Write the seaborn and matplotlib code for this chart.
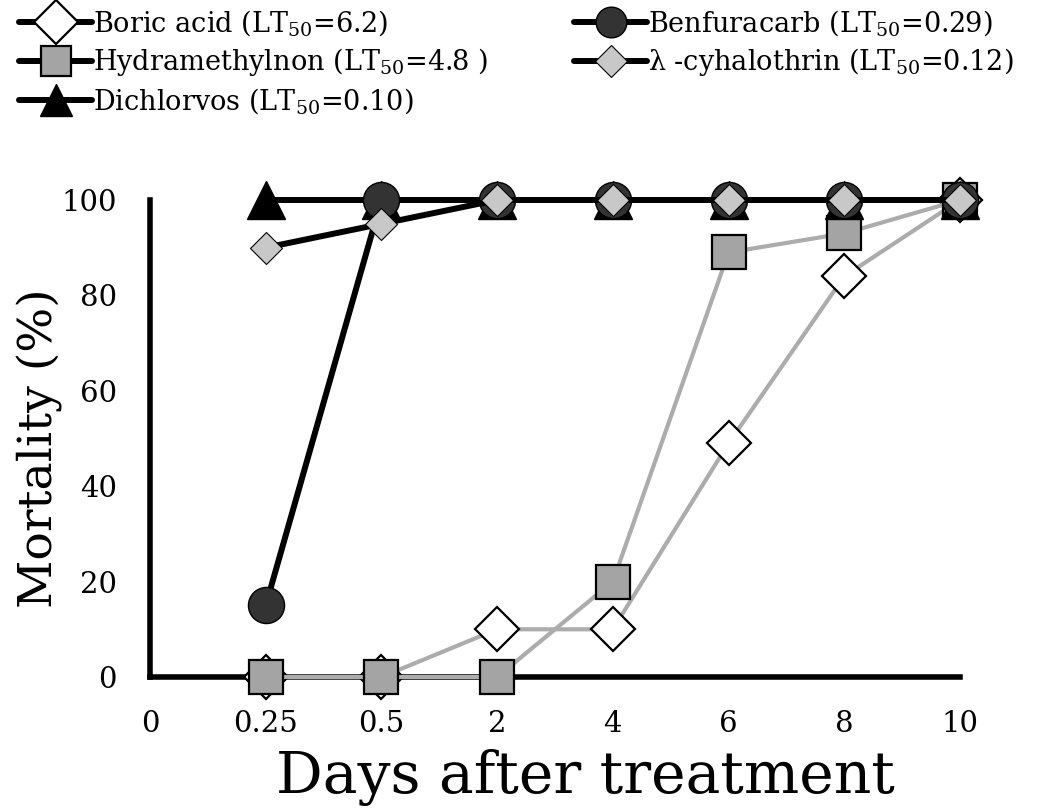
import matplotlib
matplotlib.use("Agg")
import matplotlib.pyplot as plt
from matplotlib.lines import Line2D
import seaborn as sns

# ---- data ----
tick_labels = ["0", "0.25", "0.5", "2", "4", "6", "8", "10"]
days = ["0.25", "0.5", "2", "4", "6", "8", "10"]
boric_acid = [0, 0, 10, 10, 49, 84, 100]
hydramethylnon = [0, 0, 0, 20, 89, 93, 100]
dichlorvos = [100, 100, 100, 100, 100, 100, 100]
benfuracarb = [15, 100, 100, 100, 100, 100, 100]
cyhalothrin = [90, 95, 100, 100, 100, 100, 100]
labels = [
    r"Boric acid (LT$_{50}$=6.2)",
    r"Hydramethylnon (LT$_{50}$=4.8 )",
    r"Dichlorvos (LT$_{50}$=0.10)",
    r"Benfuracarb (LT$_{50}$=0.29)",
    r"λ -cyhalothrin (LT$_{50}$=0.12)",
]

sns.set_theme(style="white")
plt.rcParams["font.family"] = ["DejaVu Serif"]
plt.rcParams["mathtext.fontset"] = "dejavuserif"
plt.rcParams["text.color"] = "black"
plt.rcParams["axes.labelcolor"] = "black"

fig = plt.figure(figsize=(10.43, 8.1), dpi=100)
ax = fig.add_axes([150 / 1043, 1 - 677 / 810, 810 / 1043, 477 / 810])

pos = [tick_labels.index(d) for d in days]

styles = [
    dict(vals=boric_acid, color="#acacac", lw=3.0, marker="D", ms=22,
         mfc="white", mew=1.6, z=3),
    dict(vals=hydramethylnon, color="#acacac", lw=3.0, marker="s", ms=25,
         mfc="#a4a4a4", mew=1.6, z=4),
    dict(vals=dichlorvos, color="black", lw=4.3, marker="^", ms=27,
         mfc="black", mew=1.0, z=5),
    dict(vals=benfuracarb, color="black", lw=4.3, marker="o", ms=26,
         mfc="#333333", mew=1.0, z=6),
    dict(vals=cyhalothrin, color="black", lw=4.3, marker="D", ms=16,
         mfc="#c8c8c8", mew=0.8, z=7),
]

for st in styles:
    sns.lineplot(x=pos, y=st["vals"], ax=ax, color=st["color"],
                 linewidth=st["lw"], marker=st["marker"],
                 markersize=st["ms"], markerfacecolor=st["mfc"],
                 markeredgecolor="black", markeredgewidth=st["mew"],
                 clip_on=False, zorder=st["z"], legend=False)

ax.set_xlim(0, 7)
ax.set_ylim(0, 100)
ax.set_xticks(range(len(tick_labels)))
ax.set_xticklabels(tick_labels)
ax.set_yticks([0, 20, 40, 60, 80, 100])
for s in ["top", "right"]:
    ax.spines[s].set_visible(False)
for s in ["left", "bottom"]:
    ax.spines[s].set_linewidth(4)
    ax.spines[s].set_color("black")
    ax.spines[s].set_zorder(2.5)
ax.tick_params(axis="both", direction="in", length=7, width=3.5,
               colors="black", labelcolor="black", labelsize=21, pad=24)
ax.set_xlabel("Days after treatment", fontsize=42, color="black")
ax.set_ylabel("Mortality (%)", fontsize=34, color="black")
ax.xaxis.set_label_coords(0.537, -0.15)
ax.yaxis.set_label_coords(-0.108, 0.48)

# ---- legend ----
handles = []
for st in styles:
    handles.append(Line2D([], [], color="black", lw=4.3, marker=st["marker"],
                          markersize=st["ms"] * (0.85 if st["marker"] != "D" else 1.0),
                          markerfacecolor=st["mfc"], markeredgecolor="black",
                          markeredgewidth=st["mew"]))

common = dict(frameon=False, fontsize=19.5, handlelength=2.7, handletextpad=0.05,
              labelspacing=0.3, borderpad=0, borderaxespad=0, loc="upper left",
              labelcolor="black")
fig.legend(handles[:3], labels[:3], bbox_to_anchor=(19 / 1043, 1 - 8 / 810), **common)
fig.legend(handles[3:], labels[3:], bbox_to_anchor=(574 / 1043, 1 - 8 / 810), **common)

fig.savefig("out.png", dpi=100, facecolor="white")
